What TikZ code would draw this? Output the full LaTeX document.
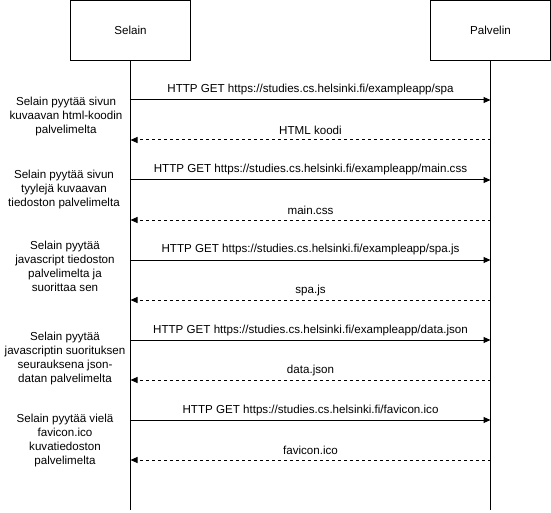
\documentclass[tikz,border=0pt]{standalone}
\usepackage{fontspec}
\setmainfont{Liberation Sans}
\usetikzlibrary{arrows.meta}
\begin{document}
\begin{tikzpicture}[x=1pt,y=-1pt,
 actor/.style={draw,line width=1pt,minimum width=120pt,minimum height=60pt,inner sep=0pt,font=\fontsize{11.6}{14}\selectfont},
 life/.style={line width=1pt},
 msg/.style={line width=1pt,-{Triangle[length=7pt,width=6pt]}},
 reply/.style={msg,dash pattern=on 3pt off 3pt},
 lbl/.style={font=\fontsize{11.6}{14}\selectfont,inner sep=0pt,midway,yshift=10pt},
 note/.style={font=\fontsize{11.6}{14}\selectfont,align=center,inner sep=0pt}]
\useasboundingbox (0,0) rectangle (551,513);
\fill[white] (0,0) rectangle (551,513);
\node[actor] (selain) at (130.5,30.5) {Selain};
\node[actor] (palvelin) at (490.5,30.5) {Palvelin};
\coordinate (selainend) at (130.5,510);
\coordinate (palvelinend) at (490.5,510);
\draw[life] (selain.south) -- (selainend);
\draw[life] (palvelin.south) -- (palvelinend);
\foreach \i/\y in {1/100,2/140,3/180,4/220,5/260,6/300,7/340,8/380,9/420,10/460}{
  \coordinate (s\i) at (130.5,\y);
  \coordinate (p\i) at (490.5,\y);
}
\draw[msg] (s1) -- node[lbl] (m1) {HTTP GET https://studies.cs.helsinki.fi/exampleapp/spa} (p1);
\draw[reply] (p2) -- node[lbl] (m2) {HTML koodi} (s2);
\draw[msg] (s3) -- node[lbl] (m3) {HTTP GET https://studies.cs.helsinki.fi/exampleapp/main.css} (p3);
\draw[reply] (p4) -- node[lbl] (m4) {main.css} (s4);
\draw[msg] (s5) -- node[lbl] (m5) {HTTP GET https://studies.cs.helsinki.fi/exampleapp/spa.js} (p5);
\draw[reply] (p6) -- node[lbl] (m6) {spa.js} (s6);
\draw[msg] (s7) -- node[lbl] (m7) {HTTP GET https://studies.cs.helsinki.fi/exampleapp/data.json} (p7);
\draw[reply] (p8) -- node[lbl] (m8) {data.json} (s8);
\draw[msg] (s9) -- node[lbl] (m9) {HTTP GET https://studies.cs.helsinki.fi/favicon.ico} (p9);
\draw[reply] (p10) -- node[lbl] (m10) {favicon.ico} (s10);
\node[note] (n1) at (66,117) {Selain pyytää sivun\\kuvaavan html-koodin\\palvelimelta};
\node[note] (n2) at (64,190) {Selain pyytää sivun\\tyylejä kuvaavan\\tiedoston palvelimelta};
\node[note] (n3) at (65,266) {Selain pyytää\\javascript tiedoston\\palvelimelta ja\\suorittaa sen};
\node[note] (n4) at (65,358) {Selain pyytää\\javascriptin suorituksen\\seurauksena json-\\datan palvelimelta};
\node[note] (n5) at (65,440) {Selain pyytää vielä\\favicon.ico\\kuvatiedoston\\palvelimelta};
\end{tikzpicture}
\end{document}
